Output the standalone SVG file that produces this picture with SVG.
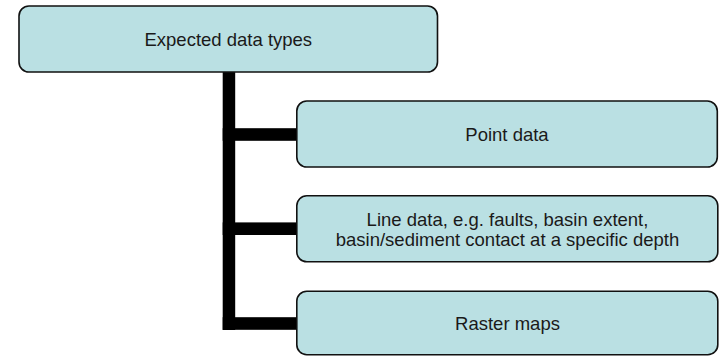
<svg xmlns="http://www.w3.org/2000/svg" width="721" height="356" viewBox="0 0 721 356">
<style>
.box{fill:#BAE0E3;stroke:#111111;stroke-width:1.6}
.lbl{font-family:"Liberation Sans",Arial,sans-serif;font-size:18.5px;fill:#1a1a1a;text-anchor:middle}
.conn{fill:#000000}
</style>
<rect width="721" height="356" fill="#ffffff"/>
<g id="connectors">
<rect class="conn" x="222.7" y="71" width="12.5" height="259"/>
<rect class="conn" x="222.7" y="128.2" width="74" height="12.6"/>
<rect class="conn" x="222.7" y="222.4" width="74" height="12.6"/>
<rect class="conn" x="222.7" y="317.2" width="74" height="12.6"/>
</g>
<g id="node-root">
<rect class="box" x="19" y="6" width="418.5" height="66" rx="10"/>
<text class="lbl" x="228.3" y="45.5">Expected data types</text>
</g>
<g id="node-point">
<rect class="box" x="296.8" y="101" width="420.5" height="66" rx="10"/>
<text class="lbl" x="507" y="141">Point data</text>
</g>
<g id="node-line">
<rect class="box" x="296.8" y="195.8" width="421" height="66" rx="10"/>
<text class="lbl" x="507.5" y="225.6">Line data, e.g. faults, basin extent,</text>
<text class="lbl" x="507.5" y="245.5">basin/sediment contact at a specific depth</text>
</g>
<g id="node-raster">
<rect class="box" x="296.8" y="291.2" width="421" height="63.5" rx="10"/>
<text class="lbl" x="507.5" y="329.5">Raster maps</text>
</g>
</svg>
